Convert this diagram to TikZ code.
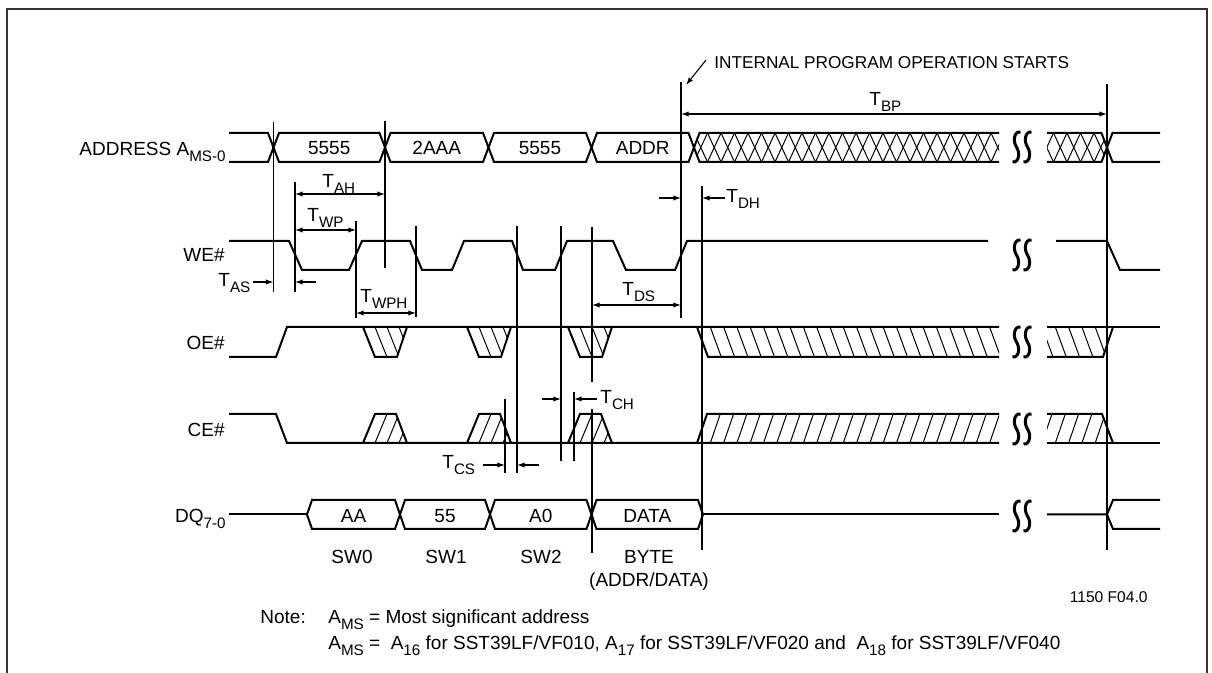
\documentclass[tikz,border=0pt]{standalone}
\usepackage{fontspec}
\setmainfont{Liberation Sans}
\usepackage{tikz}
\usetikzlibrary{arrows.meta}

\newcommand{\tsub}[1]{\raisebox{-0.5ex}{\fontsize{7.6}{8}\selectfont #1}}

\tikzset{
  wave/.style={line width=1pt, line join=miter},
  guide/.style={line width=0.55pt},
  hatch/.style={line width=0.5pt},
  dim/.style={line width=0.55pt, {Latex[length=3.8pt,width=2.6pt]}-{Latex[length=3.8pt,width=2.6pt]}},
  ptr/.style={line width=0.55pt, -{Latex[length=3.8pt,width=2.6pt]}},
  lbl/.style={inner sep=0pt, font=\fontsize{9.5}{11}\selectfont},
  small/.style={inner sep=0pt, font=\fontsize{7.8}{9}\selectfont},
  brk/.pic={
    \foreach \dx in {-5.5,5.5}
      \draw[line width=1.5pt] (\dx+4,-15) .. controls (\dx-3,-16) and (\dx-3.5,-5) .. (\dx,0)
        .. controls (\dx+3.5,5) and (\dx+3,16) .. (\dx-4,15);
  }
}

\begin{document}
\begin{tikzpicture}[x=0.5pt, y=-0.5pt]
    \useasboundingbox (0,0) rectangle (1212,673);
    % Frame
    \draw[line width=1pt, black!80] (7,673) -- (7,9) -- (1207,9) -- (1207,673);

    % Define nodes
    \node[lbl, anchor=base east] (ADDR) at (226,156) {ADDRESS A\tsub{MS-0}};
    \node[lbl, anchor=base east] (WE) at (225,262) {WE\#};
    \node[lbl, anchor=base east] (OE) at (225,350) {OE\#};
    \node[lbl, anchor=base east] (CE) at (225,437) {CE\#};
    \node[lbl, anchor=base east] (DQ) at (226,523) {DQ\tsub{7-0}};

    \node[lbl, anchor=base west, font=\fontsize{8.6}{10}\selectfont] (INT) at (714,69) {INTERNAL PROGRAM OPERATION STARTS};
    \node[lbl, anchor=base west] (TBP) at (869,106) {T\tsub{BP}};
    \node[lbl, anchor=base west] (TAH) at (322,188) {T\tsub{AH}};
    \node[lbl, anchor=base west] (TWP) at (307,222) {T\tsub{WP}};
    \node[lbl, anchor=base west] (TAS) at (218,287) {T\tsub{AS}};
    \node[lbl, anchor=base west] (TWPH) at (360,303) {T\tsub{WPH}};
    \node[lbl, anchor=base west] (TDS) at (622,296) {T\tsub{DS}};
    \node[lbl, anchor=base west] (TDH) at (726,203) {T\tsub{DH}};
    \node[lbl, anchor=base west] (TCH) at (600,404) {T\tsub{CH}};
    \node[lbl, anchor=base west] (TCS) at (442,469) {T\tsub{CS}};

    \node[lbl, anchor=base] (SW0) at (352,564) {SW0};
    \node[lbl, anchor=base] (SW1) at (446,564) {SW1};
    \node[lbl, anchor=base] (SW2) at (541,564) {SW2};
    \node[lbl, anchor=base] (BYTE) at (649,564) {BYTE};
    \node[lbl, anchor=base] (BYTE2) at (649,587) {(ADDR/DATA)};
    \node[small, anchor=base east] (FIG) at (1148,603) {1150 F04.0};

    \node[lbl, anchor=base west] (NOTE) at (260,624) {Note:};
    \node[lbl, anchor=base west] (N1) at (328,624) {A\tsub{MS} = Most significant address};
    \node[lbl, anchor=base west] (N2) at (328,650) {A\tsub{MS} =\ \ A\tsub{16} for SST39LF/VF010, A\tsub{17} for SST39LF/VF020 and\ \ A\tsub{18} for SST39LF/VF040};

    % Address bus
    \draw[wave] (229,133) -- (268,133) -- (273.5,147.5) -- (268,162) -- (229,162);
    \foreach \a/\b/\t [count=\i] in {273.5/385/5555, 385/488.5/2AAA, 488.5/591.5/5555, 591.5/694/ADDR}{
      \draw[wave] (\a,147.5) -- (\a+5.5,133) -- (\b-5.5,133) -- (\b,147.5) -- (\b-5.5,162) -- (\a+5.5,162) -- cycle;
      \node[lbl, anchor=base] (AC\i) at ({(\a+\b)/2},155) {\t};
    }
    \draw[wave] (999,133) -- (699.5,133) -- (694,147.5) -- (699.5,162) -- (999,162);
    \begin{scope}
      \clip (694,147.5) -- (699.5,133) -- (999,133) -- (999,162) -- (699.5,162) -- cycle;
      \foreach \k in {0,...,23}{
        \draw[hatch] (694+13.5*\k,133) -- ++(13.5,29);
        \draw[hatch] (694+13.5*\k,162) -- ++(13.5,-29);
      }
    \end{scope}
    \draw[wave] (1047,133) -- (1101.5,133) -- (1107,147.5) -- (1101.5,162) -- (1047,162);
    \begin{scope}
      \clip (1047,133) -- (1101.5,133) -- (1107,147.5) -- (1101.5,162) -- (1047,162) -- cycle;
      \foreach \k in {0,...,4}{
        \draw[hatch] (1040+13.5*\k,133) -- ++(13.5,29);
        \draw[hatch] (1040+13.5*\k,162) -- ++(13.5,-29);
      }
    \end{scope}
    \draw[wave] (1160,133) -- (1112.5,133) -- (1107,147.5) -- (1112.5,162) -- (1160,162);

    % WE#
    \draw[wave] (229,241) -- (289,241) -- (302,270) -- (349,270) -- (362,241) -- (410,241) -- (422,270)
      -- (452,270) -- (464,241) -- (512,241) -- (523,270) -- (555,270) -- (567,241) -- (613,241)
      -- (626,270) -- (675,270) -- (687,241) -- (988,241);
    \draw[wave] (1056,241) -- (1107,241) -- (1120,270) -- (1160,270);

    % OE#
    \draw[wave] (229,357) -- (276,357) -- (287,327) -- (999,327);
    \draw[wave] (1047,327) -- (1160,327);
    \foreach \a in {363,467,568}{
      \draw[wave] (\a,327) -- (\a+12,357) -- (\a+34,357) -- (\a+44,327);
      \begin{scope}
        \clip (\a,327) -- (\a+12,357) -- (\a+34,357) -- (\a+44,327) -- cycle;
        \foreach \h in {12,24,36} \draw[hatch] (\a+\h,327) -- ++(12,30);
      \end{scope}
    }
    \draw[wave] (697,327) -- (708,357) -- (999,357);
    \begin{scope}
      \clip (697,327) -- (708,357) -- (999,357) -- (999,327) -- cycle;
      \foreach \k in {1,...,23} \draw[hatch] (697+13.3*\k,327) -- ++(11,30);
    \end{scope}
    \draw[wave] (1047,357) -- (1103,357) -- (1113,327);
    \begin{scope}
      \clip (1047,327) -- (1047,357) -- (1103,357) -- (1113,327) -- cycle;
      \foreach \k in {0,...,4} \draw[hatch] (1042+13.3*\k,327) -- ++(11,30);
    \end{scope}

    % CE#
    \draw[wave] (229,414) -- (276,414) -- (287,443) -- (999,443);
    \draw[wave] (1047,443) -- (1160,443);
    \foreach \a in {363,467,568}{
      \draw[wave] (\a,443) -- (\a+12,414) -- (\a+33,414) -- (\a+44,443);
      \begin{scope}
        \clip (\a,443) -- (\a+12,414) -- (\a+33,414) -- (\a+44,443) -- cycle;
        \foreach \h in {12,24,36} \draw[hatch] (\a+\h,443) -- ++(12,-29);
      \end{scope}
    }
    \draw[wave] (697,443) -- (707,414) -- (999,414);
    \begin{scope}
      \clip (697,443) -- (707,414) -- (999,414) -- (999,443) -- cycle;
      \foreach \k in {1,...,23} \draw[hatch] (697+13.3*\k,443) -- ++(10,-29);
    \end{scope}
    \draw[wave] (1047,414) -- (1102,414) -- (1113,443);
    \begin{scope}
      \clip (1047,443) -- (1047,414) -- (1102,414) -- (1113,443) -- cycle;
      \foreach \k in {0,...,4} \draw[hatch] (1042+13.3*\k,443) -- ++(10,-29);
    \end{scope}

    % DQ bus
    \draw[wave] (229,514.5) -- (307,514.5);
    \foreach \a/\b/\t [count=\i] in {307/400/AA, 400/490/55, 490/591.5/A0, 591.5/703/DATA}{
      \draw[wave] (\a,514.5) -- (\a+5,500) -- (\b-5,500) -- (\b,514.5) -- (\b-5,529) -- (\a+5,529) -- cycle;
      \node[lbl, anchor=base] (DC\i) at ({(\a+\b)/2},523) {\t};
    }
    \draw[wave] (703,514.5) -- (999,514.5);
    \draw[wave] (1047,514.5) -- (1107,514.5) -- (1113,500) -- (1160,500);
    \draw[wave] (1107,514.5) -- (1113,529) -- (1160,529);

    % Breaks
    \foreach \y in {147,255,342,429,516} \pic at (1022,\y) {brk};

    % Timing lines
    \foreach \x/\ya/\yb in {273.5/122/292, 385/121/268, 295/182/292, 356/221/318, 416/226/317,
        517/226/473, 561/226/461, 592/227/382, 592/409/553, 681/82/318, 702/186/550,
        1107/84/550, 505/399/473, 574/392/461}
      \draw[guide] (\x,\ya) -- (\x,\yb);

    % Draw arrows
    \draw[dim] (295,194) -- (385,194);
    \draw[dim] (295,230) -- (356,230);
    \draw[dim] (356,313) -- (416,313);
    \draw[dim] (592,305) -- (681,305);
    \draw[dim] (681,114) -- (1107,114);
    \draw[ptr] (253,282) -- (273.5,282);
    \draw[ptr] (316,282) -- (295,282);
    \draw[ptr] (659,198) -- (681,198);
    \draw[ptr] (725,198) -- (702,198);
    \draw[ptr] (542,399) -- (561,399);
    \draw[ptr] (597,399) -- (574,399);
    \draw[ptr] (483,465) -- (505,465);
    \draw[ptr] (539,465) -- (517,465);
    \draw[ptr] (INT.west) ++(-8,-3) -- (686,85);
\end{tikzpicture}
\end{document}
